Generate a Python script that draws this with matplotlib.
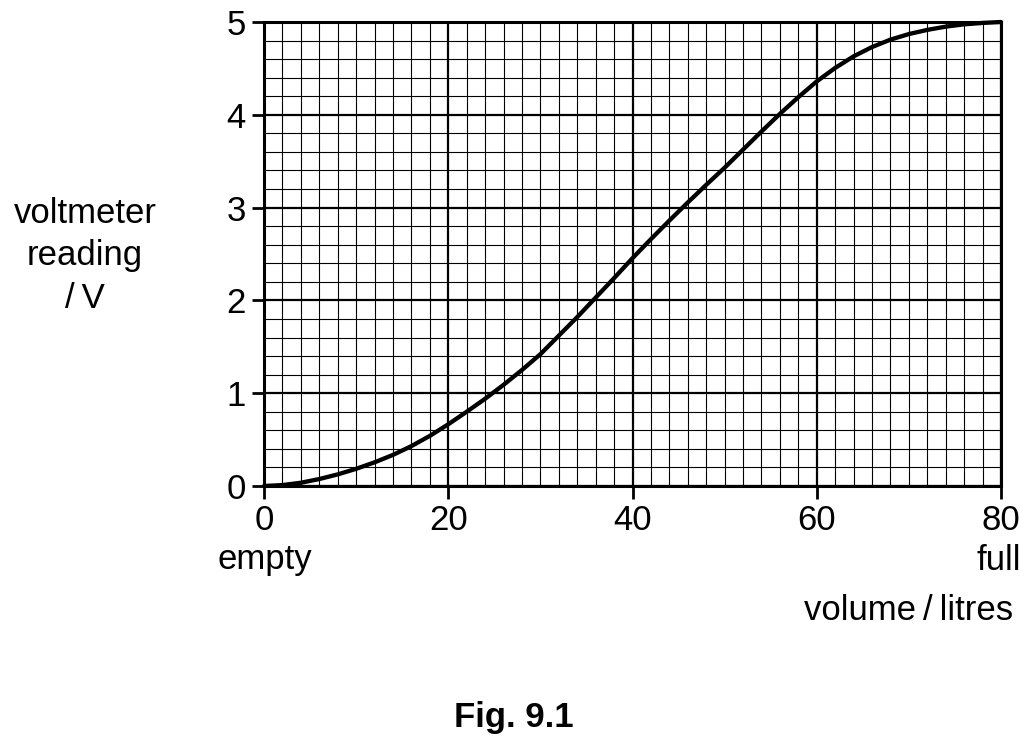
import matplotlib.pyplot as plt
from matplotlib.ticker import MultipleLocator

plt.rcParams['font.family'] = ['Liberation Sans', 'DejaVu Sans']

# volume in litres, read every 2 litres off the curve
volume = [0, 2, 4, 6, 8, 10, 12, 14, 16, 18, 20, 22, 24, 26, 28, 30, 32, 34, 36, 38, 40,
          42, 44, 46, 48, 50, 52, 54, 56, 58, 60, 62, 64, 66, 68, 70, 72, 74, 76, 78, 80]
voltage = [0.0, 0.01, 0.035, 0.075, 0.125, 0.185, 0.255, 0.335, 0.43, 0.54, 0.665,
           0.80, 0.94, 1.09, 1.25, 1.42, 1.62, 1.82, 2.03, 2.24, 2.455,
           2.66, 2.86, 3.055, 3.245, 3.43, 3.625, 3.82, 4.01, 4.19, 4.36,
           4.505, 4.63, 4.73, 4.81, 4.87, 4.915, 4.95, 4.975, 4.99, 5.0]

x_ticks = [0, 20, 40, 60, 80]
y_ticks = [0, 1, 2, 3, 4, 5]

W, H = 1032, 748
fig = plt.figure(figsize=(W / 100, H / 100), dpi=100)
ax = fig.add_axes([264 / W, 1 - 486 / H, (1001 - 264) / W, (486 - 22) / H])

ax.set_xlim(0, 80)
ax.set_ylim(0, 5)
ax.set_xticks(x_ticks)
ax.set_yticks(y_ticks)
ax.xaxis.set_minor_locator(MultipleLocator(2))
ax.yaxis.set_minor_locator(MultipleLocator(0.2))

ax.grid(which='minor', color='black', lw=0.8)
ax.grid(which='major', color='black', lw=1.6)
ax.set_axisbelow(True)

for s in ax.spines.values():
    s.set_linewidth(2.2)

ax.tick_params(which='major', direction='out', length=9, width=2, labelsize=25,
               pad=4, colors='black')
ax.tick_params(which='minor', length=0)

ax.plot(volume, voltage, color='black', lw=3.1, solid_joinstyle='round',
        solid_capstyle='round', clip_on=False)

fs = 25
fig.text(85 / W, 1 - 256 / H, 'voltmeter\nreading\n/\u2009V', ha='center', va='center',
         fontsize=fs, linespacing=1.36)
fig.text(265 / W, 1 - 560 / H, 'empty', ha='center', va='center', fontsize=fs)
fig.text(1021 / W, 1 - 560 / H, 'full', ha='right', va='center', fontsize=fs)
fig.text(1013 / W, 1 - 610 / H, 'volume\u2009/\u2009litres', ha='right', va='center',
         fontsize=fs)
fig.text(514 / W, 1 - 718 / H, 'Fig. 9.1', ha='center', va='center', fontsize=fs,
         fontweight='bold')

fig.savefig('out.png', dpi=100)
